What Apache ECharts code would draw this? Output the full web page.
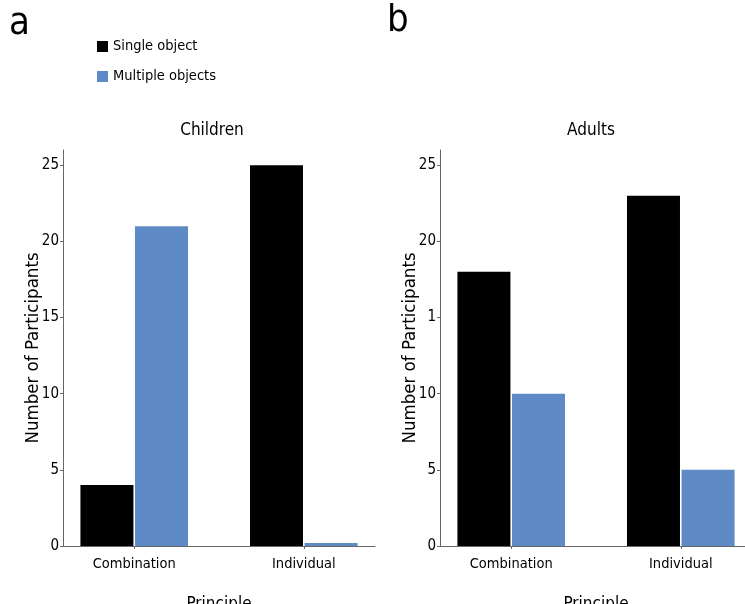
<!DOCTYPE html>
<html><head><meta charset="utf-8">
<script src="https://cdn.jsdelivr.net/npm/echarts@6/dist/echarts.min.js"></script>
<style>html,body{margin:0;padding:0;background:#fff}#c{width:745px;height:604px}</style>
</head><body><div id="c"></div>
<script>
const categories = ['Combination', 'Individual'];
const seriesNames = ['Single object', 'Multiple objects'];
const childrenSingle = [4, 25];
const childrenMultiple = [21, 0.2];
const adultsSingle = [18, 23];
const adultsMultiple = [10, 5];
const yTicks = [0, 5, 10, 15, 20, 25];
const yTickLabelsA = ['0', '5', '10', '15', '20', '25'];
const yTickLabelsB = ['0', '5', '10', '1', '20', '25'];
const panelTitles = ['Children', 'Adults'];
const panelLetters = ['a', 'b'];

const FONT = "'Liberation Sans Narrow', 'DejaVu Sans Condensed', 'Liberation Sans', sans-serif";
const colors = ['#000000', '#5e8bc6'];
const axisColor = '#666';

function toPts(arr) { return arr.map((v, i) => [i + 1, v]); }

function xAxisFor(idx) {
  return {
    type: 'value', gridIndex: idx, min: 0.58, max: 2.42,
    name: 'Principle', nameLocation: 'middle', nameGap: 50,
    nameTextStyle: { fontFamily: FONT, fontSize: 17, color: '#000' },
    axisLine: { show: true, lineStyle: { color: axisColor, width: 1 } },
    axisTick: { show: true, length: 3, customValues: [1, 2], lineStyle: { color: axisColor } },
    axisLabel: { customValues: [1, 2], margin: 11, fontFamily: FONT, fontSize: 14.5, color: '#000',
      formatter: v => categories[Math.round(v) - 1] || '' },
    splitLine: { show: false }
  };
}
function yAxisFor(idx, labels) {
  return {
    type: 'value', gridIndex: idx, min: 0, max: 26,
    name: 'Number of Participants', nameLocation: 'middle', nameGap: 20, nameMoveOverlap: false,
    nameTextStyle: { fontFamily: FONT, fontSize: 18.5, color: '#000' },
    axisLine: { show: true, lineStyle: { color: axisColor, width: 1 } },
    axisTick: { show: true, length: 3, customValues: yTicks, lineStyle: { color: axisColor } },
    axisLabel: { customValues: yTicks, margin: 4, fontFamily: FONT, fontSize: 15, color: '#000',
      formatter: v => labels[yTicks.indexOf(v)] ?? '' },
    splitLine: { show: false }
  };
}
function bar(name, data, idx, color) {
  return {
    name, type: 'bar', xAxisIndex: idx, yAxisIndex: idx, data: toPts(data),
    barWidth: 53, barGap: '3%', itemStyle: { color }, silent: true
  };
}

const chart = echarts.init(document.getElementById('c'), null, { renderer: 'canvas' });
chart.setOption({
  animation: false,
  backgroundColor: '#fff',
  title: [
    { text: panelLetters[0], left: 4, top: 0, textStyle: { fontFamily: FONT, fontSize: 38, fontWeight: 'normal', color: '#000' } },
    { text: panelLetters[1], left: 382, top: -3, textStyle: { fontFamily: FONT, fontSize: 38, fontWeight: 'normal', color: '#000' } },
    { text: panelTitles[0], left: 207, top: 117, textAlign: 'center', textStyle: { fontFamily: FONT, fontSize: 17, fontWeight: 'normal', color: '#000' } },
    { text: panelTitles[1], left: 586, top: 117, textAlign: 'center', textStyle: { fontFamily: FONT, fontSize: 17, fontWeight: 'normal', color: '#000' } }
  ],
  legend: {
    data: seriesNames, orient: 'vertical', left: 92, top: 34, itemGap: 15,
    itemWidth: 11, itemHeight: 11, icon: 'rect', selectedMode: false,
    textStyle: { fontFamily: FONT, fontSize: 14.5, color: '#000' }
  },
  grid: [
    { left: 63, top: 150, width: 312, height: 396, outerBoundsMode: 'none', containLabel: false },
    { left: 440, top: 150, width: 312, height: 396, outerBoundsMode: 'none', containLabel: false }
  ],
  xAxis: [xAxisFor(0), xAxisFor(1)],
  yAxis: [yAxisFor(0, yTickLabelsA), yAxisFor(1, yTickLabelsB)],
  series: [
    bar(seriesNames[0], childrenSingle, 0, colors[0]),
    bar(seriesNames[1], childrenMultiple, 0, colors[1]),
    bar(seriesNames[0], adultsSingle, 1, colors[0]),
    bar(seriesNames[1], adultsMultiple, 1, colors[1])
  ]
});
</script></body></html>
